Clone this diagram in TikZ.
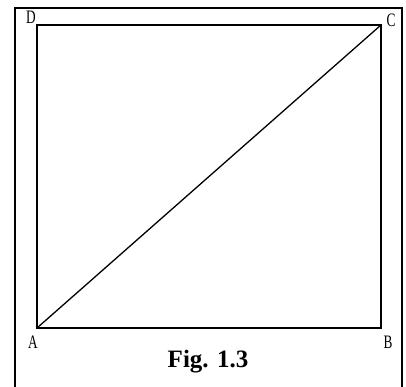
\documentclass[tikz,border=0pt]{standalone}
\usepackage{fontspec}
\usepackage{graphicx}
\setmainfont{Liberation Serif}
\newcommand{\narrowlbl}[1]{\scalebox{0.7}[1]{\fontsize{19}{19}\selectfont #1}}
\begin{document}
\begin{tikzpicture}[x=1pt,y=-1pt,
  lbl/.style={inner sep=0pt},
  edge/.style={line width=1.3pt}]
\useasboundingbox (0,0) rectangle (406,387);
\draw[line width=1.8pt] (15,387) -- (15,8) -- (402,8) -- (402,387);
\coordinate (A) at (37,328);
\coordinate (B) at (381,328);
\coordinate (C) at (381,25);
\coordinate (D) at (37,25);
\draw[edge] (A) -- (B) -- (C) -- (D) -- cycle;
\draw[edge] (A) -- (C);
\node[lbl] (lA) at (33,342) {\narrowlbl{A}};
\node[lbl] (lB) at (388,342) {\narrowlbl{B}};
\node[lbl] (lC) at (391,20) {\narrowlbl{C}};
\node[lbl] (lD) at (31,17) {\narrowlbl{D}};
\node[font=\fontsize{25}{25}\selectfont\bfseries, inner sep=0pt] (cap) at (208,362) {Fig. 1.3};
\end{tikzpicture}
\end{document}
